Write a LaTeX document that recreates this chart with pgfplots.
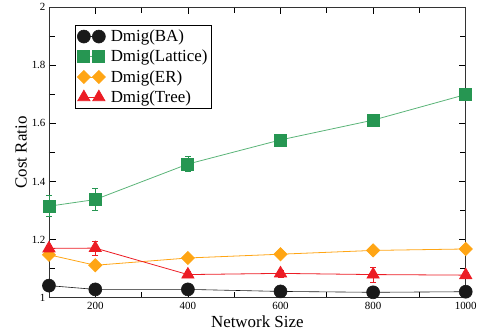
\documentclass[border=0pt]{standalone}
\usepackage{pgfplots}
\pgfplotsset{compat=1.18}
\usepackage{pgfplotstable}
\usepackage{fontspec}
\setmainfont{Liberation Serif}
\definecolor{bablack}{RGB}{25,25,25}
\definecolor{latgreen}{RGB}{38,150,82}
\definecolor{latline}{RGB}{90,180,120}
\definecolor{erorange}{RGB}{255,165,20}
\definecolor{treered}{RGB}{236,28,36}

\pgfplotstableread{
x y e
100 1.042 0.004
200 1.029 0.004
400 1.029 0.004
600 1.022 0.004
800 1.019 0.004
1000 1.021 0.004
}\ba
\pgfplotstableread{
x y e
100 1.315 0.036
200 1.338 0.037
400 1.460 0.025
600 1.543 0.020
800 1.611 0.010
1000 1.699 0.010
}\lat
\pgfplotstableread{
x y e
100 1.148 0.008
200 1.112 0.006
400 1.137 0.005
600 1.150 0.005
800 1.163 0.005
1000 1.168 0.005
}\er
\pgfplotstableread{
x y e
100 1.170 0.010
200 1.171 0.025
400 1.080 0.010
600 1.084 0.012
800 1.080 0.025
1000 1.078 0.010
}\tree

\begin{document}
\begin{tikzpicture}
\begin{axis}[
  at={(0,0)}, anchor=south west,
  scale only axis, width=417bp, height=291bp,
  xmin=100, xmax=1000, ymin=1, ymax=2,
  clip=false,
  axis line style={line width=0.9pt, black!80},
  xtick={200,400,600,800,1000},
  xticklabels={200,400,600,800,1000},
  minor xtick={300,500,700,900},
  ytick={1,1.2,1.4,1.6,1.8,2},
  yticklabels={1,1.2,1.4,1.6,1.8,2},
  minor ytick={1.1,1.3,1.5,1.7,1.9},
  tick align=inside,
  major tick length=7bp, minor tick length=6bp,
  tick style={line width=0.7pt, black},
  /pgf/number format/assume math mode=true,
  tick label style={font=\fontsize{11}{11}\selectfont},
  xticklabel style={yshift=-1bp},
  xlabel={Network Size}, ylabel={Cost Ratio},
  label style={font=\fontsize{17}{17}\selectfont},
  xlabel style={at={(axis description cs:0.5,-0.0825)}, anchor=center},
  ylabel style={at={(axis description cs:-0.067,0.5)}, anchor=center},
  legend style={at={(axis description cs:0.0624,0.938)}, anchor=north west,
    font=\fontsize{17}{18}\selectfont, draw=black, line width=0.8pt,
    inner xsep=2bp, inner ysep=3bp, row sep=4bp,
    nodes={inner sep=1.5bp, line width=0.5pt}},
  legend cell align=left,
  legend image code/.code={\draw[#1] plot coordinates {(0cm,0cm) (15bp,0cm)};\path (25bp,0);},
  error bars/y dir=both, error bars/y explicit,
  error bars/error mark options={rotate=90, mark size=3bp, line width=0.6pt},
]
\addplot[color=bablack, line width=0.6pt, mark=*, mark size=6.5bp,
  mark options={fill=bablack, draw=bablack},
  error bars/error bar style={bablack}]
  table[x=x, y=y, y error=e] {\ba};
\addlegendentry{Dmig(BA)}
\addplot[color=latline, line width=0.8pt, mark=square*, mark size=6bp,
  mark options={fill=latgreen, draw=latgreen},
  error bars/error bar style={latgreen, line width=0.6pt}]
  table[x=x, y=y, y error=e] {\lat};
\addlegendentry{Dmig(Lattice)}
\addplot[color=erorange, line width=0.8pt, mark=square*, mark size=4.6bp,
  mark options={fill=erorange, draw=erorange, rotate=45},
  error bars/error bar style={erorange}]
  table[x=x, y=y, y error=e] {\er};
\addlegendentry{Dmig(ER)}
\addplot[color=treered, line width=0.8pt, mark=triangle*, mark size=7bp,
  mark options={fill=treered, draw=treered},
  error bars/error bar style={treered}]
  table[x=x, y=y, y error=e] {\tree};
\addlegendentry{Dmig(Tree)}
\end{axis}
\path[use as bounding box] (-49bp,-37bp) rectangle (431bp,298bp);
\end{tikzpicture}
\end{document}
